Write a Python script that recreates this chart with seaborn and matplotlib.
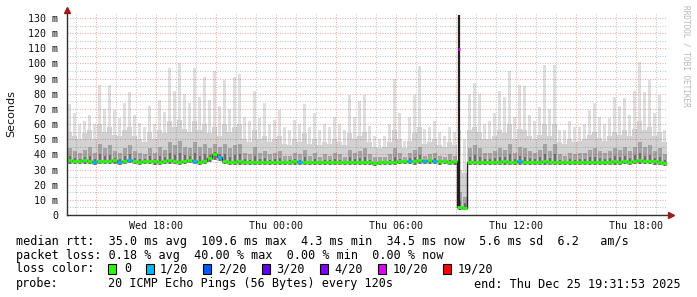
import numpy as np
import pandas as pd
import matplotlib
matplotlib.use("Agg")
import matplotlib.pyplot as plt
import seaborn as sns
from matplotlib.patches import Rectangle
from matplotlib.ticker import FixedLocator

# ---------------- data ----------------
end_time = pd.Timestamp("2025-12-25 19:31:53")
window_hours = 30
bin_hours = 0.25  # one value every 15 minutes

median_ms = [
    36.0, 35.8, 35.5, 36.2, 35.6, 35.2, 35.8, 35.4, 35.6, 36.0, 35.0, 35.8, 36.4, 35.5, 35.2, 35.6, 35.8, 35.4, 35.0, 35.6,
    36.0, 35.5, 35.2, 35.8, 36.2, 35.5, 35.0, 35.4, 37.5, 40.0, 38.5, 35.6, 35.2, 35.0, 35.4, 35.2, 35.0, 35.2, 34.8, 35.0,
    34.8, 35.0, 35.2, 34.8, 35.0, 35.4, 35.2, 35.0, 34.8, 35.0, 35.2, 34.9, 35.0, 35.1, 34.8, 35.0, 35.2, 34.8, 35.0, 35.0,
    34.8, 34.6, 35.0, 34.8, 35.0, 35.2, 35.5, 35.6, 35.8, 35.4, 36.0, 35.6, 36.0, 35.8, 35.4, 35.6, 35.2, 35.4, 5.0, 4.5,
    34.8, 35.0, 35.2, 34.8, 35.0, 35.2, 35.0, 35.4, 35.2, 35.0, 35.4, 35.2, 35.0, 35.2, 35.1, 35.4, 35.0, 35.2, 35.0, 34.8,
    35.0, 35.2, 34.9, 35.0, 35.2, 35.0, 35.3, 35.0, 35.1, 35.4, 35.2, 35.6, 35.3, 35.8, 36.0, 35.6, 35.8, 35.4, 34.8, 34.6,
]
smoke_min_ms = [
    33.6, 33.5, 33.4, 33.8, 33.5, 33.2, 33.6, 33.4, 33.5, 33.8, 33.2, 33.6, 34.0, 33.4, 33.2, 33.5, 33.6, 33.3, 33.0, 33.4,
    33.8, 33.4, 33.2, 33.6, 34.0, 33.4, 33.0, 33.4, 35.0, 36.5, 35.5, 33.5, 33.2, 33.0, 33.3, 33.2, 33.0, 33.1, 32.8, 33.0,
    32.8, 33.0, 33.1, 32.8, 33.0, 33.3, 33.1, 33.0, 32.8, 33.0, 33.1, 32.9, 33.0, 33.0, 32.8, 33.0, 33.1, 32.8, 33.0, 33.0,
    32.8, 32.6, 33.0, 32.8, 33.0, 33.1, 33.4, 33.5, 33.6, 33.3, 33.8, 33.5, 33.8, 33.6, 33.3, 33.5, 33.1, 33.3, 3.5, 3.4,
    32.8, 33.0, 33.1, 32.8, 33.0, 33.1, 33.0, 33.3, 33.1, 33.0, 33.3, 33.1, 33.0, 33.1, 33.0, 33.3, 33.0, 33.1, 33.0, 32.8,
    33.0, 33.1, 32.9, 33.0, 33.1, 33.0, 33.2, 33.0, 33.0, 33.3, 33.1, 33.5, 33.2, 33.6, 33.8, 33.5, 33.6, 33.3, 32.8, 32.6,
]
smoke_q75_ms = [
    44, 42, 41, 43, 45, 41, 47, 44, 46, 42, 41, 44, 46, 42, 41, 40, 44, 41, 45, 43,
    48, 46, 49, 45, 44, 48, 45, 47, 44, 47, 45, 47, 44, 46, 47, 41, 40, 45, 41, 42,
    40, 41, 42, 39, 39, 41, 40, 43, 39, 41, 38, 40, 39, 41, 40, 38, 43, 41, 42, 44,
    40, 38, 38, 38, 40, 44, 41, 38, 41, 43, 45, 39, 40, 41, 39, 38, 40, 39, 15, 12,
    44, 46, 44, 41, 41, 42, 44, 43, 47, 41, 45, 44, 42, 41, 43, 47, 42, 47, 40, 39,
    41, 40, 41, 41, 43, 44, 42, 41, 42, 44, 43, 45, 42, 45, 48, 45, 46, 42, 44, 40,
]
smoke_q90_ms = [
    55, 52, 50, 54, 56, 50, 60, 55, 58, 53, 52, 56, 58, 52, 50, 48, 55, 50, 56, 54,
    62, 58, 63, 57, 55, 62, 56, 60, 54, 58, 52, 60, 55, 58, 60, 50, 48, 56, 50, 52,
    48, 50, 52, 47, 46, 50, 48, 54, 47, 50, 46, 48, 47, 50, 48, 46, 54, 50, 52, 55,
    48, 45, 44, 45, 48, 56, 50, 44, 49, 54, 58, 47, 48, 50, 46, 45, 48, 46, 30, 28,
    56, 58, 55, 50, 50, 52, 56, 54, 60, 50, 57, 56, 52, 50, 53, 60, 52, 60, 48, 47,
    50, 48, 49, 50, 53, 55, 51, 49, 52, 55, 53, 56, 52, 57, 62, 56, 58, 52, 55, 48,
]
smoke_max_ms = [
    73, 67, 60, 62, 66, 60, 86, 70, 86, 69, 64, 74, 81, 66, 61, 58, 72, 60, 76, 68,
    97, 82, 100, 80, 74, 97, 78, 91, 76, 95, 72, 89, 70, 91, 93, 65, 62, 82, 64, 74,
    60, 63, 69, 58, 56, 63, 60, 73, 58, 67, 56, 60, 58, 65, 60, 56, 79, 65, 75, 79,
    59, 52, 50, 52, 60, 90, 67, 49, 65, 79, 98, 57, 58, 62, 55, 52, 58, 55, 56, 50,
    80, 87, 80, 60, 62, 67, 82, 78, 95, 65, 86, 85, 66, 62, 71, 99, 70, 99, 56, 56,
    62, 58, 58, 60, 69, 74, 65, 60, 64, 78, 72, 77, 66, 82, 101, 81, 89, 67, 79, 56,
]
loss_count = [
    0, 0, 0, 0, 0, 1, 0, 0, 0, 0, 1, 0, 1, 0, 0, 0, 0, 0, 0, 0,
    0, 0, 0, 0, 0, 1, 0, 0, 0, 0, 1, 0, 0, 0, 0, 0, 0, 0, 0, 0,
    0, 0, 0, 0, 0, 0, 1, 0, 0, 0, 0, 0, 0, 0, 0, 0, 0, 0, 0, 0,
    0, 0, 0, 0, 0, 0, 0, 0, 1, 0, 0, 1, 0, 1, 0, 0, 0, 0, 0, 0,
    0, 0, 0, 0, 0, 0, 0, 0, 0, 0, 1, 0, 0, 0, 0, 0, 0, 0, 0, 0,
    0, 0, 0, 0, 0, 0, 0, 0, 0, 0, 0, 0, 0, 0, 0, 0, 0, 0, 0, 0,
]
spike_hour = [19.6]
spike_median_ms = [109.6]
spike_top_ms = [132.0]
spike_loss = [10]

loss_levels = [0, 1, 2, 3, 4, 10, 19]
loss_labels = ["0", "1/20", "2/20", "3/20", "4/20", "10/20", "19/20"]
loss_colors = ["#26ff00", "#00b8ff", "#0059ff", "#5e00ff", "#7e00ff", "#dd00ff", "#ff0000"]

y_ticks = [0, 10, 20, 30, 40, 50, 60, 70, 80, 90, 100, 110, 120, 130]
y_tick_labels = ["0"] + [f"{v} m" for v in y_ticks[1:]]
x_tick_times = ["2025-12-24 18:00", "2025-12-25 00:00", "2025-12-25 06:00",
                "2025-12-25 12:00", "2025-12-25 18:00"]
x_tick_labels = ["Wed 18:00", "Thu 00:00", "Thu 06:00", "Thu 12:00", "Thu 18:00"]

stats_lines = [
    "median rtt:  35.0 ms avg  109.6 ms max  4.3 ms min  34.5 ms now  5.6 ms sd  6.2   am/s",
    "packet loss: 0.18 % avg  40.00 % max  0.00 % min  0.00 % now",
    "loss color:",
    "probe:",
]
probe_text = "20 ICMP Echo Pings (56 Bytes) every 120s"
end_text = "end: Thu Dec 25 19:31:53 2025"

# ---------------- figure ----------------
sns.set_style("white")
W, H = 697, 297
fig = plt.figure(figsize=(W / 100, H / 100), dpi=100)
fig.patch.set_facecolor("white")
ax = fig.add_axes([67 / W, (H - 215) / H, 600 / W, 202 / H])
ax.set_facecolor("white")

start_time = end_time - pd.Timedelta(hours=window_hours)
hours = np.arange(len(median_ms)) * bin_hours
df = pd.DataFrame({
    "hour": hours, "median": median_ms, "lo": smoke_min_ms,
    "q75": smoke_q75_ms, "q90": smoke_q90_ms, "max": smoke_max_ms, "loss": loss_count,
})

def to_hours(ts):
    return (pd.Timestamp(ts) - start_time) / pd.Timedelta(hours=1)

# smoke layers: thin light spikes up to the max, then nested darker bands
ax.bar(df["hour"] + bin_hours * 0.2, df["max"] - df["lo"], bottom=df["lo"],
       width=bin_hours * 0.6, align="edge", color="#dfdfdf", linewidth=0, zorder=1)
ax.bar(df["hour"], df["q90"] - df["lo"], bottom=df["lo"], width=bin_hours,
       align="edge", color="#d2d2d2", linewidth=0, zorder=1)
ax.bar(df["hour"] + bin_hours * 0.1, df["q75"] - df["lo"], bottom=df["lo"],
       width=bin_hours * 0.8, align="edge", color="#a4a4a4", linewidth=0, zorder=1)
ax.bar(df["hour"] + bin_hours * 0.3, (df["q75"] - df["lo"]) * 0.5, bottom=df["lo"],
       width=bin_hours * 0.4, align="edge", color="#6e6e6e", linewidth=0, zorder=1)

# spike event
ax.vlines(spike_hour, [median_ms[78]], spike_top_ms, color="#202020", linewidth=1.6, zorder=3)

# dark thin median line
step_df = pd.concat([df[["hour", "median"]],
                     pd.DataFrame({"hour": [window_hours], "median": [median_ms[-1]]})])
sns.lineplot(data=step_df, x="hour", y="median", ax=ax, color="#202020",
             linewidth=1.0, drawstyle="steps-post", zorder=3, legend=False)

def loss_color(n):
    c = loss_colors[0]
    for lv, cc in zip(loss_levels, loss_colors):
        if n >= lv:
            c = cc
    return c

seg_colors = [loss_color(n) for n in loss_count]
ax.hlines(df["median"], df["hour"], df["hour"] + bin_hours, colors=seg_colors,
          linewidth=2.0, zorder=4)
ax.hlines(spike_median_ms, np.array(spike_hour) - 0.03, np.array(spike_hour) + 0.05,
          colors=[loss_color(n) for n in spike_loss], linewidth=2.0, zorder=4)

# axes limits and grids
ax.set_xlim(0, window_hours)
ax.set_ylim(0, 133.3)
ax.set_xlabel("")
ax.set_ylabel("")

major_x = [to_hours("2025-12-24 15:00") + 3 * k for k in range(10)]
minor_x = [to_hours("2025-12-24 14:00") + k for k in range(30)]
ax.xaxis.set_major_locator(FixedLocator([to_hours(t) for t in x_tick_times]))
ax.set_xticklabels(x_tick_labels)
ax.yaxis.set_major_locator(FixedLocator(y_ticks))
ax.set_yticklabels(y_tick_labels)

grid_gray = (0.45, 0.45, 0.45, 0.4)
grid_red = (0.8, 0.15, 0.15, 0.38)
dot = (0, (1, 1.4))
for xv in minor_x:
    if all(abs(xv - m) > 1e-6 for m in major_x):
        ax.axvline(xv, color=grid_gray, linestyle=dot, linewidth=0.75, zorder=2)
for xv in major_x:
    ax.axvline(xv, color=grid_red, linestyle=dot, linewidth=0.75, zorder=2)
for yv in range(5, 134, 10):
    ax.axhline(yv, color=grid_gray, linestyle=dot, linewidth=0.75, zorder=2)
for yv in y_ticks[1:]:
    ax.axhline(yv, color=grid_red, linestyle=dot, linewidth=0.75, zorder=2)

for s in ["top", "right"]:
    ax.spines[s].set_visible(False)
for s in ["left", "bottom"]:
    ax.spines[s].set_color("#303030")
    ax.spines[s].set_linewidth(1.0)
    ax.spines[s].set_zorder(5)

mono = "DejaVu Sans Mono"
ax.tick_params(axis="y", length=0, pad=6.5, labelsize=7.2, labelcolor="#111111")
ax.tick_params(axis="x", length=0, pad=4, labelsize=7.2, labelcolor="#111111")
for lab in ax.get_xticklabels() + ax.get_yticklabels():
    lab.set_family(mono)

# arrows
arrow_col = "#9b1c1c"
ax.plot([0], [1.013], marker="^", markersize=4, color=arrow_col, transform=ax.transAxes,
        clip_on=False, zorder=6)
ax.plot([1.006], [0], marker=">", markersize=4, color=arrow_col, transform=ax.transAxes,
        clip_on=False, zorder=6)

# y label
fig.text(11 / W, 1 - 114 / H, "Seconds", rotation=90, ha="center", va="center",
         fontsize=8, family="DejaVu Sans", color="#111111")

# watermark
fig.text(686 / W, 1 - 5 / H, "RRDTOOL / TOBI OETIKER", rotation=270, ha="center",
         va="top", fontsize=5.6, family=mono, color="#b8b8b8")

# legend text
line_y = [241, 255, 269, 284]
for txt, yy in zip(stats_lines, line_y):
    fig.text(16 / W, 1 - yy / H, txt, ha="left", va="center", fontsize=8.5,
             family=mono, color="#000000")
fig.text(108 / W, 1 - line_y[3] / H, probe_text, ha="left", va="center",
         fontsize=8.5, family=mono, color="#000000")
fig.text(681 / W, 1 - line_y[3] / H, end_text, ha="right", va="center",
         fontsize=8.5, family=mono, color="#000000")

box_x = [108, 145.5, 203, 261.7, 320, 377.8, 442.8]
label_x = [124, 160, 218, 276, 334.7, 392.5, 457.5]
for bx, lx, lab, col in zip(box_x, label_x, loss_labels, loss_colors):
    fig.add_artist(Rectangle((bx / W, 1 - (line_y[2] + 5) / H), 8 / W, 10 / H,
                             transform=fig.transFigure, facecolor=col,
                             edgecolor="black", linewidth=0.8))
    fig.text(lx / W, 1 - line_y[2] / H, lab, ha="left", va="center", fontsize=8.5,
             family=mono, color="#000000")

fig.savefig("out.png", dpi=100)
